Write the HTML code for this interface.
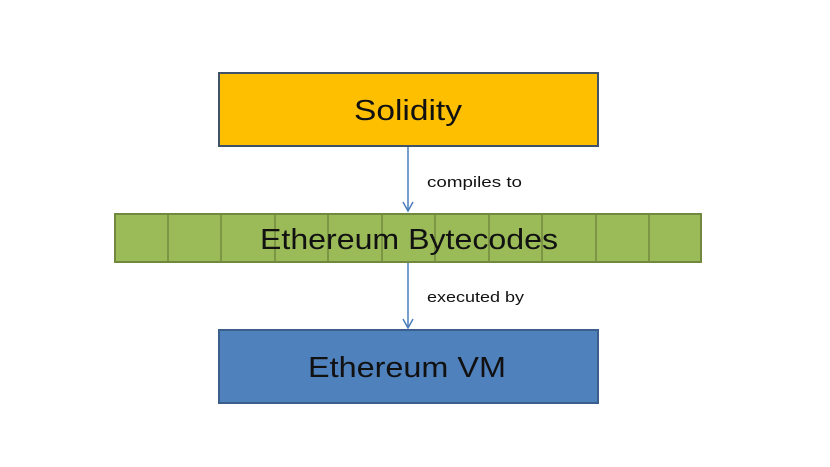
<!DOCTYPE html>
<html><head><style>body{margin:0;background:#fff}svg{display:block}</style></head><body>
<svg width="830" height="467" viewBox="0 0 830 467" xmlns="http://www.w3.org/2000/svg" font-family="Liberation Sans, sans-serif">
<rect x="219" y="73" width="379" height="73" fill="#fdbf00" stroke="#3f5268" stroke-width="2"/>
<text x="354" y="120" font-size="29" textLength="108" lengthAdjust="spacingAndGlyphs" fill="#111">Solidity</text>
<line x1="408" y1="147" x2="408" y2="210" stroke="#4a7ebb" stroke-width="1.5"/>
<path d="M403 202 L408 211 L413 202" fill="none" stroke="#4a7ebb" stroke-width="1.5"/>
<text x="427" y="187" font-size="15" textLength="95" lengthAdjust="spacingAndGlyphs" fill="#111">compiles to</text>
<rect x="115" y="214" width="586" height="48" fill="#9bbb59" stroke="#71893f" stroke-width="2"/>
<g stroke="#71893f" stroke-width="1.5">
<line x1="168" y1="214" x2="168" y2="262"/><line x1="221" y1="214" x2="221" y2="262"/>
<line x1="275" y1="214" x2="275" y2="262"/><line x1="328" y1="214" x2="328" y2="262"/>
<line x1="382" y1="214" x2="382" y2="262"/><line x1="435" y1="214" x2="435" y2="262"/>
<line x1="489" y1="214" x2="489" y2="262"/><line x1="542" y1="214" x2="542" y2="262"/>
<line x1="596" y1="214" x2="596" y2="262"/><line x1="649" y1="214" x2="649" y2="262"/>
</g>
<text x="260" y="249" font-size="29" textLength="298" lengthAdjust="spacingAndGlyphs" fill="#111">Ethereum Bytecodes</text>
<line x1="408" y1="263" x2="408" y2="327" stroke="#4a7ebb" stroke-width="1.5"/>
<path d="M403 319 L408 328 L413 319" fill="none" stroke="#4a7ebb" stroke-width="1.5"/>
<text x="427" y="302" font-size="15" textLength="97" lengthAdjust="spacingAndGlyphs" fill="#111">executed by</text>
<rect x="219" y="330" width="379" height="73" fill="#4f81bd" stroke="#3a5f8c" stroke-width="2"/>
<text x="308" y="377" font-size="29" textLength="198" lengthAdjust="spacingAndGlyphs" fill="#111">Ethereum VM</text>
</svg>
</body></html>
